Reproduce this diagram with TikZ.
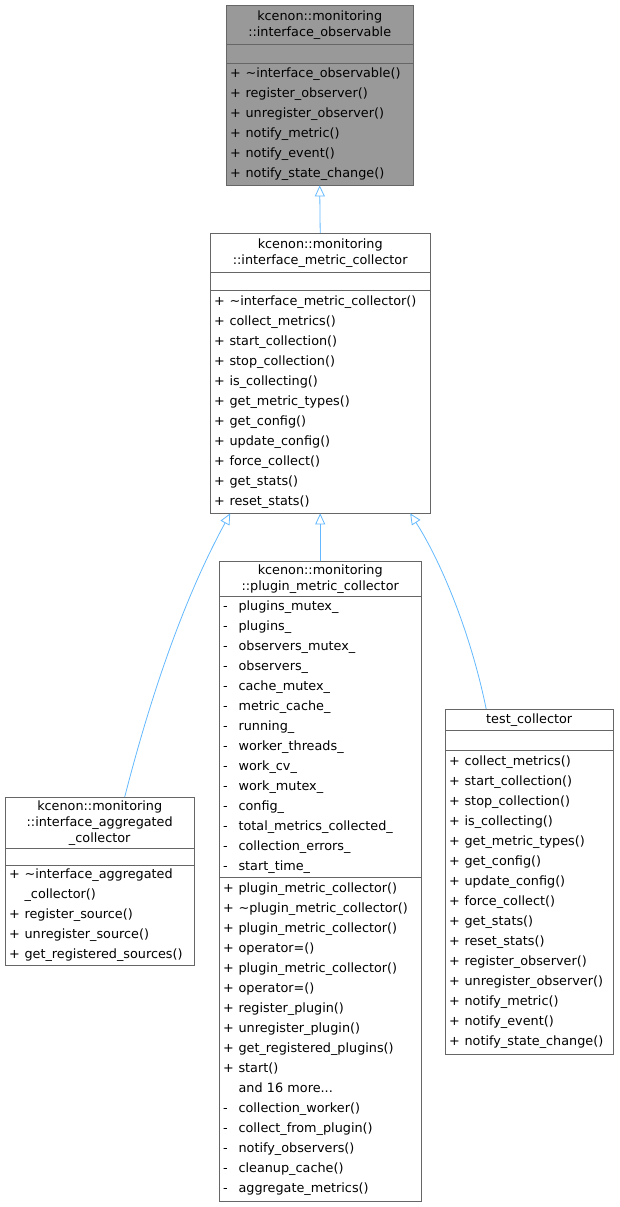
\documentclass[tikz,border=0pt]{standalone}
\usepackage{fontspec}
\setmainfont{DejaVu Sans}
\usetikzlibrary{arrows.meta}
\definecolor{inhcol}{HTML}{63B8FF}
\newcommand{\mb}[2]{\makebox[1.2em][l]{#1}#2\\}
\tikzset{
  sect/.style={draw=black!60, fill=white, anchor=north west, inner xsep=4pt, inner ysep=0pt,
    font=\fontsize{12.8}{20}\selectfont, align=left},
  ttl/.style={sect, align=center, font=\fontsize{12.8}{16}\selectfont},
  inh/.style={draw=inhcol, line width=0.8pt, -{Triangle[open, length=11pt, width=10pt]}}
}
\begin{document}
\begin{tikzpicture}[x=1pt, y=-1pt]
  \useasboundingbox (0,0) rectangle (619,1207);
  % interface_observable
  \node[ttl, fill=black!40, text width=179pt, minimum height=39pt] (obsT) at (226,5)
    {kcenon::monitoring\\::interface\_observable};
  \node[sect, fill=black!40, text width=179pt, minimum height=19pt] (obsA) at (226,44) {};
  \node[sect, fill=black!40, text width=179pt, minimum height=122pt] (obsM) at (226,63)
    {\mb{+}{\textasciitilde interface\_observable()}\mb{+}{register\_observer()}\mb{+}{unregister\_observer()}%
     \mb{+}{notify\_metric()}\mb{+}{notify\_event()}\mb{+}{notify\_state\_change()}};
  % interface_metric_collector
  \node[ttl, text width=212pt, minimum height=39pt] (colT) at (210,233)
    {kcenon::monitoring\\::interface\_metric\_collector};
  \node[sect, text width=212pt, minimum height=18pt] (colA) at (210,272) {};
  \node[sect, text width=212pt, minimum height=223pt] (colM) at (210,290)
    {\mb{+}{\textasciitilde interface\_metric\_collector()}\mb{+}{collect\_metrics()}\mb{+}{start\_collection()}%
     \mb{+}{stop\_collection()}\mb{+}{is\_collecting()}\mb{+}{get\_metric\_types()}\mb{+}{get\_config()}%
     \mb{+}{update\_config()}\mb{+}{force\_collect()}\mb{+}{get\_stats()}\mb{+}{reset\_stats()}};
  % plugin_metric_collector
  \node[ttl, text width=194pt, minimum height=35pt] (plgT) at (219,561)
    {kcenon::monitoring\\::plugin\_metric\_collector};
  \node[sect, text width=194pt, minimum height=281pt] (plgA) at (219,596)
    {\mb{-}{plugins\_mutex\_}\mb{-}{plugins\_}\mb{-}{observers\_mutex\_}\mb{-}{observers\_}%
     \mb{-}{cache\_mutex\_}\mb{-}{metric\_cache\_}\mb{-}{running\_}\mb{-}{worker\_threads\_}%
     \mb{-}{work\_cv\_}\mb{-}{work\_mutex\_}\mb{-}{config\_}\mb{-}{total\_metrics\_collected\_}%
     \mb{-}{collection\_errors\_}\mb{-}{start\_time\_}};
  \node[sect, text width=194pt, minimum height=324pt] (plgM) at (219,877)
    {\mb{+}{plugin\_metric\_collector()}\mb{+}{\textasciitilde plugin\_metric\_collector()}\mb{+}{plugin\_metric\_collector()}%
     \mb{+}{operator=()}\mb{+}{plugin\_metric\_collector()}\mb{+}{operator=()}\mb{+}{register\_plugin()}%
     \mb{+}{unregister\_plugin()}\mb{+}{get\_registered\_plugins()}\mb{+}{start()}\mb{}{and 16 more...}%
     \mb{-}{collection\_worker()}\mb{-}{collect\_from\_plugin()}\mb{-}{notify\_observers()}%
     \mb{-}{cleanup\_cache()}\mb{-}{aggregate\_metrics()}};
  % interface_aggregated_collector
  \node[ttl, text width=181pt, minimum height=51pt] (aggT) at (5,797)
    {kcenon::monitoring\\::interface\_aggregated\\\_collector};
  \node[sect, text width=181pt, minimum height=17pt] (aggA) at (5,848) {};
  \node[sect, text width=181pt, minimum height=100pt] (aggM) at (5,865)
    {\mb{+}{\textasciitilde interface\_aggregated}\mb{}{\_collector()}\mb{+}{register\_source()}%
     \mb{+}{unregister\_source()}\mb{+}{get\_registered\_sources()}};
  % test_collector
  \node[ttl, text width=160pt, minimum height=21pt] (tstT) at (445,709) {test\_collector};
  \node[sect, text width=160pt, minimum height=20pt] (tstA) at (445,730) {};
  \node[sect, text width=160pt, minimum height=304pt] (tstM) at (445,750)
    {\mb{+}{collect\_metrics()}\mb{+}{start\_collection()}\mb{+}{stop\_collection()}\mb{+}{is\_collecting()}%
     \mb{+}{get\_metric\_types()}\mb{+}{get\_config()}\mb{+}{update\_config()}\mb{+}{force\_collect()}%
     \mb{+}{get\_stats()}\mb{+}{reset\_stats()}\mb{+}{register\_observer()}\mb{+}{unregister\_observer()}%
     \mb{+}{notify\_metric()}\mb{+}{notify\_event()}\mb{+}{notify\_state\_change()}};
  % inheritance
  \draw[inh] (colT.north) -- (obsM.south);
  \draw[inh] (plgT.north) -- (colM.south);
  \draw[inh] ([xshift=25pt]aggT.north) .. controls (165,640) and (205,560) .. ([xshift=-90pt]colM.south);
  \draw[inh] ([xshift=-43pt]tstT.north) .. controls (470,630) and (440,560) .. ([xshift=90pt]colM.south);
\end{tikzpicture}
\end{document}
